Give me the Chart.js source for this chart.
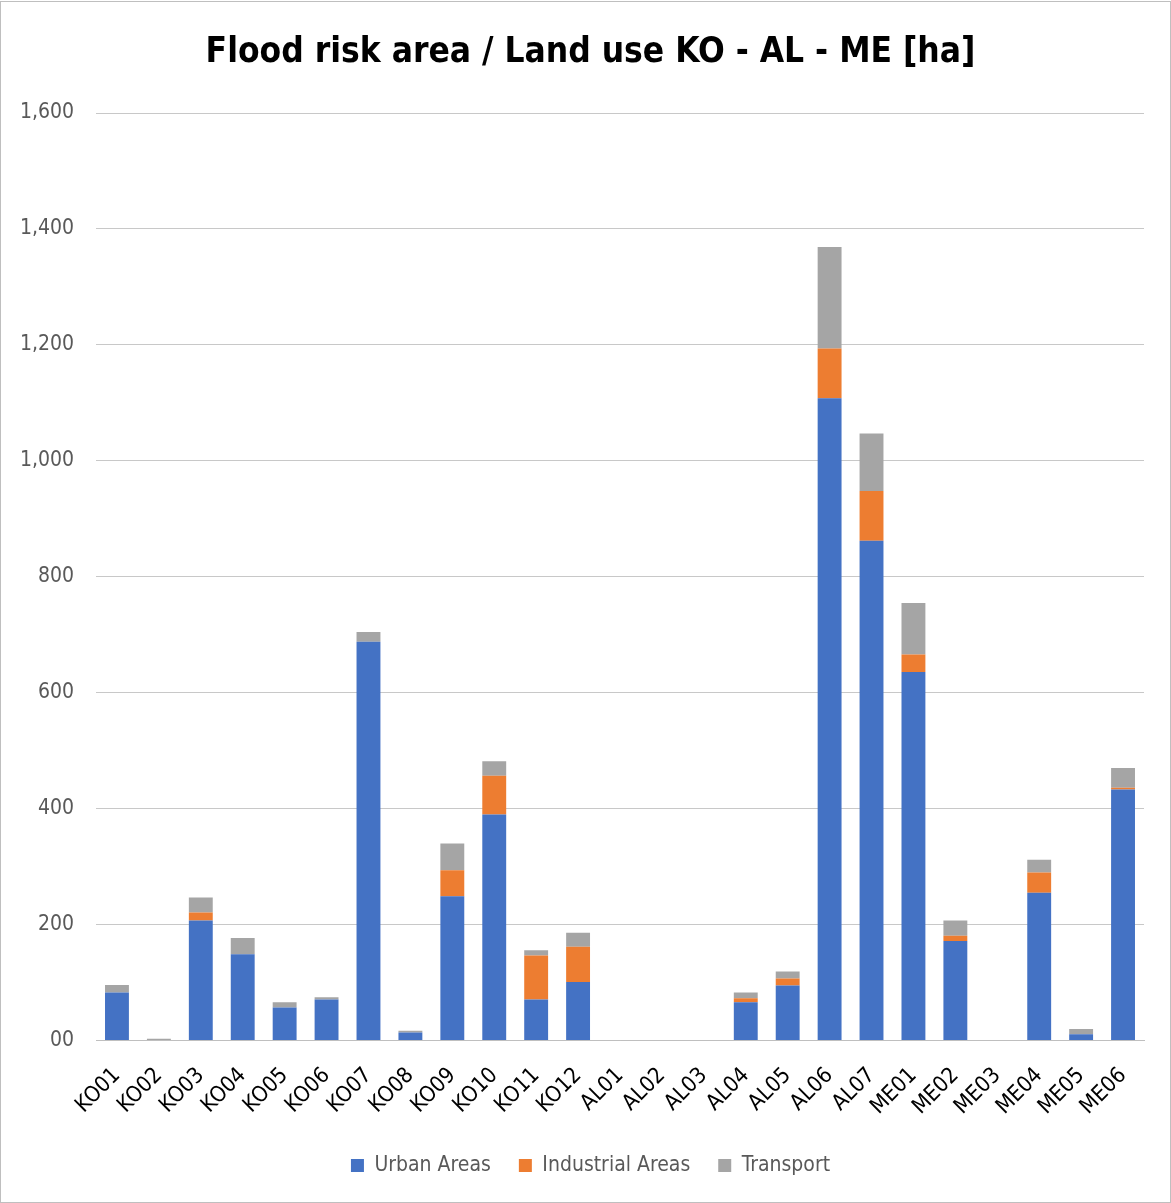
<!DOCTYPE html>
<html>
<head>
<meta charset="utf-8">
<script src="https://cdn.jsdelivr.net/npm/chart.js@4.4.1/dist/chart.umd.min.js"></script>
<style>
  html, body { margin: 0; padding: 0; background: #ffffff; }
  #frame {
    position: absolute; left: 0; top: 1px;
    width: 1169px; height: 1200px;
    border: 1px solid #bfbfbf;
    background: #ffffff;
  }
  #chart { display: block; }
</style>
</head>
<body>
<div id="frame"><canvas id="chart" width="1169" height="1200"></canvas></div>
<script>
// Flood risk area by land use class, per sub-basin (hectares)
const categories = [
  'KO01','KO02','KO03','KO04','KO05','KO06','KO07','KO08','KO09','KO10','KO11','KO12',
  'AL01','AL02','AL03','AL04','AL05','AL06','AL07',
  'ME01','ME02','ME03','ME04','ME05','ME06'
];
const urbanAreas = [
  83, 0, 207, 149, 57, 71, 688, 14, 249, 390, 71, 101,
  0, 0, 0, 66, 95, 1108, 862,
  636, 172, 0, 255, 11, 433
];
const industrialAreas = [
  0, 0, 14, 0, 0, 0, 0, 0, 45, 67, 76, 61,
  0, 0, 0, 7, 12, 86, 86,
  30, 9, 0, 35, 0, 3
];
const transport = [
  13, 3, 26, 28, 9, 4, 17, 3, 46, 25, 9, 24,
  0, 0, 0, 10, 12, 175, 99,
  89, 26, 0, 22, 9, 34
];
const yTicks = [0, 200, 400, 600, 800, 1000, 1200, 1400, 1600];

const FONT = "'DejaVu Sans Condensed', 'Open Sans', sans-serif";
const TEXT = '#595959';

new Chart(document.getElementById('chart'), {
  type: 'bar',
  data: {
    labels: categories,
    datasets: [
      { label: 'Urban Areas', data: urbanAreas, backgroundColor: '#4472C4' },
      { label: 'Industrial Areas', data: industrialAreas, backgroundColor: '#ED7D31' },
      { label: 'Transport', data: transport, backgroundColor: '#A5A5A5' }
    ]
  },
  options: {
    responsive: false,
    animation: false,
    layout: { padding: { left: 10, right: 0, top: 0, bottom: 16 } },
    datasets: { bar: { categoryPercentage: 1.0, barPercentage: 0.57 } },
    plugins: {
      title: {
        display: true,
        text: 'Flood risk area / Land use KO - AL - ME [ha]',
        color: '#000000',
        font: { family: FONT, size: 35, weight: 'bold' },
        padding: { top: 30, bottom: 39 }
      },
      legend: {
        position: 'bottom',
        labels: {
          color: TEXT,
          font: { family: FONT, size: 21 },
          boxWidth: 13,
          boxHeight: 13,
          padding: 28
        }
      },
      tooltip: { enabled: false }
    },
    scales: {
      x: {
        stacked: true,
        grid: { display: false, drawTicks: false },
        border: { display: true, color: '#bfbfbf', width: 1 },
        afterFit: s => { s.height -= 15; },
        ticks: {
          color: '#000000',
          font: { family: FONT, size: 22 },
          minRotation: 45,
          maxRotation: 45,
          autoSkip: false,
          padding: 22
        }
      },
      y: {
        stacked: true,
        min: 0,
        max: 1600,
        afterBuildTicks: s => { s.ticks = yTicks.map(v => ({ value: v })); },
        afterFit: s => { s.width = 85; },
        grid: { color: '#c8c8c8', lineWidth: 1, drawTicks: false },
        border: { display: false },
        ticks: {
          color: TEXT,
          font: { family: FONT, size: 21 },
          padding: 22,
          callback: v => (v === 0 ? '00' : v.toLocaleString('en-US'))
        }
      },
      // empty right-hand margin axis, keeps the plot clear of the frame
      yRight: {
        position: 'right',
        display: true,
        afterFit: s => { s.width = 26; },
        grid: { display: false, drawTicks: false },
        border: { display: false },
        ticks: { display: false }
      }
    }
  }
});
</script>
</body>
</html>
